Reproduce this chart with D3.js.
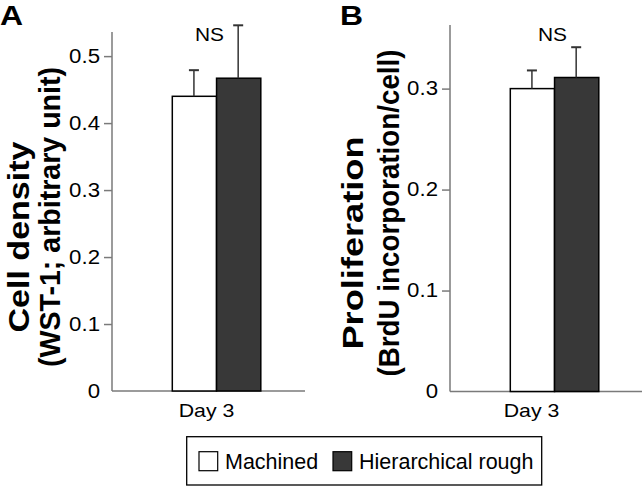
<!DOCTYPE html>
<html>
<head>
<meta charset="utf-8">
<script src="https://cdn.jsdelivr.net/npm/d3@7/dist/d3.min.js"></script>
<style>
  html, body { margin: 0; padding: 0; background: #fff; }
  text { font-family: "Liberation Sans", Arial, Helvetica, sans-serif; fill: #000; }
</style>
</head>
<body>
<script>
// ---- data ----
const categories = ["Day 3"];
const series = ["Machined", "Hierarchical rough"];
const seriesColors = ["#ffffff", "#383838"];

const densityMean = [0.44, 0.467];
const densityErr = [0.039, 0.079];
const densityTicks = [0, 0.1, 0.2, 0.3, 0.4, 0.5];

const prolifMean = [0.300, 0.311];
const prolifErr = [0.018, 0.030];
const prolifTicks = [0, 0.1, 0.2, 0.3];

const sigLabel = "NS";

// ---- layout ----
const W = 643, H = 486;
const svg = d3.select("body").append("svg").attr("width", W).attr("height", H);

function stretch(sel, f) {
  sel.each(function () {
    const l = this.getComputedTextLength();
    d3.select(this).attr("textLength", l * f).attr("lengthAdjust", "spacingAndGlyphs");
  });
}

const panels = [
  {
    letter: "A", letterX: 0,
    axisX: 112, axisRight: 305, y0: 391, yTop: 32, dMax: 0.536,
    means: densityMean, errs: densityErr, ticks: densityTicks,
    title: [
      { t: "Cell density", x: 28.5, y: 237, len: 191, fs: 30 },
      { t: "(WST-1; arbitrary unit)", x: 60, y: 217, len: 300, fs: 29 }
    ],
    dayDx: -10, nsDx: -7
  },
  {
    letter: "B", letterX: 340,
    axisX: 450, axisRight: 642, y0: 391.5, yTop: 25, dMax: 0.363,
    means: prolifMean, errs: prolifErr, ticks: prolifTicks,
    title: [
      { t: "Proliferation", x: 363, y: 243, len: 213, fs: 30 },
      { t: "(BrdU incorporation/cell)", x: 399, y: 213, len: 327, fs: 29 }
    ],
    dayDx: -23, nsDx: -2
  }
];

panels.forEach(p => {
  const g = svg.append("g");
  const y = d3.scaleLinear().domain([0, p.dMax]).range([p.y0, p.yTop]);
  const xg = d3.scaleBand().domain(categories).range([p.axisX + 60.3, p.axisX + 148.8]);
  const xs = d3.scaleBand().domain(series).range([0, xg.bandwidth()]);

  // y axis
  const yAxis = d3.axisLeft(y).tickValues(p.ticks)
    .tickFormat(d => d === 0 ? "0" : d3.format(".1f")(d))
    .tickSize(8).tickPadding(4);
  const ya = g.append("g").attr("transform", `translate(${p.axisX},0)`).call(yAxis);
  ya.select(".domain").attr("d", `M0,${p.yTop}V${p.y0}`).attr("stroke", "#7a7a7a").attr("stroke-width", 1.5);
  ya.selectAll(".tick line").attr("stroke", "#7a7a7a").attr("stroke-width", 1.5)
    .filter(d => d === 0).remove();
  ya.selectAll(".tick text").attr("font-size", 19.5).attr("fill", "#000")
    .style("font-family", '"Liberation Sans", Arial, sans-serif');
  stretch(ya.selectAll(".tick text"), 1.14);

  // x axis line
  g.append("line").attr("x1", p.axisX).attr("x2", p.axisRight)
    .attr("y1", p.y0).attr("y2", p.y0)
    .attr("stroke", "#7a7a7a").attr("stroke-width", 1.5);

  // bars
  categories.forEach(c => {
    series.forEach((s, i) => {
      g.append("rect")
        .attr("x", xg(c) + xs(s))
        .attr("y", y(p.means[i]))
        .attr("width", xs.bandwidth())
        .attr("height", y(0) - y(p.means[i]))
        .attr("fill", seriesColors[i])
        .attr("stroke", "#000").attr("stroke-width", 1.5);
    });
    // error bars (upper)
    series.forEach((s, i) => {
      const cx = xg(c) + xs(s) + xs.bandwidth() / 2 - 0.5;
      const top = y(p.means[i] + p.errs[i]);
      g.append("line").attr("x1", cx).attr("x2", cx)
        .attr("y1", y(p.means[i])).attr("y2", top)
        .attr("stroke", "#333").attr("stroke-width", 1.5);
      g.append("line").attr("x1", cx - 5).attr("x2", cx + 5)
        .attr("y1", top).attr("y2", top)
        .attr("stroke", "#333").attr("stroke-width", 2);
    });
    // category label
    const dl = g.append("text")
      .attr("x", xg(c) + xg.bandwidth() / 2 + p.dayDx)
      .attr("y", 416.5)
      .attr("text-anchor", "middle").attr("font-size", 19)
      .text(c);
    stretch(dl, 1.12);
    // NS
    const ns = g.append("text")
      .attr("x", xg(c) + xg.bandwidth() / 2 + p.nsDx)
      .attr("y", 41)
      .attr("text-anchor", "middle").attr("font-size", 19)
      .text(sigLabel);
    stretch(ns, 1.1);
  });

  // titles
  p.title.forEach(tl => {
    g.append("text")
      .attr("transform", `translate(${tl.x},${tl.y}) rotate(-90)`)
      .attr("text-anchor", "middle")
      .attr("font-size", tl.fs).attr("font-weight", "bold")
      .attr("textLength", tl.len).attr("lengthAdjust", "spacingAndGlyphs")
      .text(tl.t);
  });

  // panel letter
  const L = g.append("text").attr("x", p.letterX).attr("y", 25)
    .attr("font-size", 28).attr("font-weight", "bold").text(p.letter);
  stretch(L, 1.14);
});

// ---- legend ----
const lg = svg.append("g");
lg.append("rect").attr("x", 186.7).attr("y", 436.7).attr("width", 355).attr("height", 48.3)
  .attr("fill", "#fff").attr("stroke", "#000").attr("stroke-width", 1.3);
const legendX = [199, 333];
series.forEach((s, i) => {
  lg.append("rect").attr("x", legendX[i]).attr("y", 451.7).attr("width", 18.7).attr("height", 19)
    .attr("fill", seriesColors[i]).attr("stroke", "#000").attr("stroke-width", 1.2);
  lg.append("text").attr("x", legendX[i] + 26).attr("y", 469.3)
    .attr("font-size", 21.5).text(s);
});
</script>
</body>
</html>
